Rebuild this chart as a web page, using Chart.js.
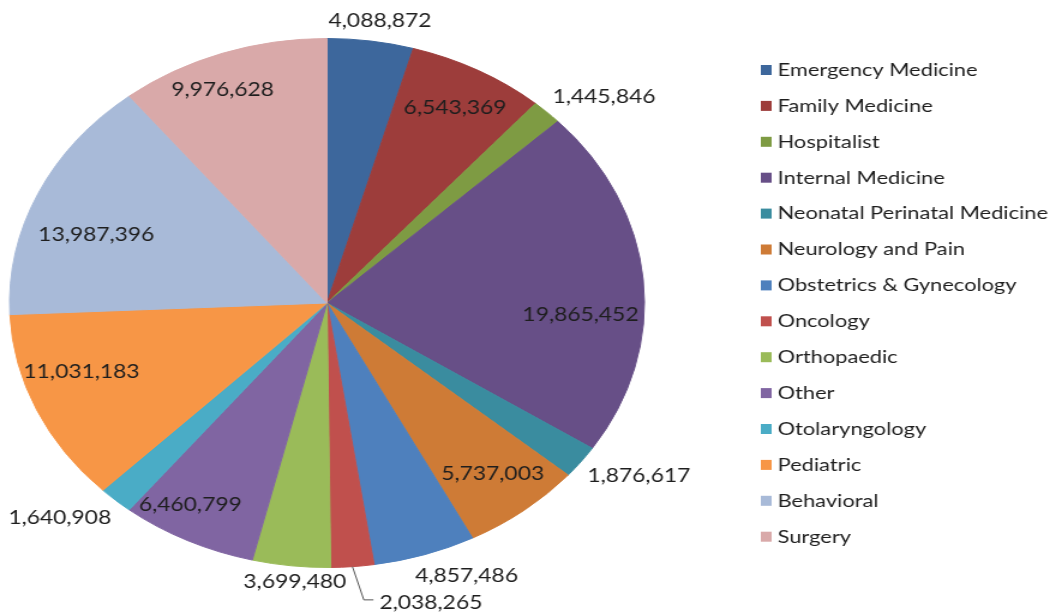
<!DOCTYPE html>
<html><head><meta charset="utf-8">
<script src="https://cdn.jsdelivr.net/npm/chart.js@4.4.0/dist/chart.umd.min.js"></script>
<style>
html,body{margin:0;padding:0;background:#fff;overflow:hidden;width:1056px;height:614px}
#wrap{width:880px;height:614px;transform:scaleX(1.2);transform-origin:0 0}
canvas{display:block}
</style></head><body>
<div id="wrap"><canvas id="c" width="880" height="614"></canvas></div>
<script>
const categories = ["Emergency Medicine","Family Medicine","Hospitalist","Internal Medicine","Neonatal Perinatal Medicine","Neurology and Pain","Obstetrics & Gynecology","Oncology","Orthopaedic","Other","Otolaryngology","Pediatric","Behavioral","Surgery"];
const values = [4088872,6543369,1445846,19865452,1876617,5737003,4857486,2038265,3699480,6460799,1640908,11031183,13987396,9976628];
const colors = ["#3D679C","#9D3D3B","#7E9B43","#674F87","#3A8C9F","#CE7B36","#4E80BD","#C0504D","#9ABB59","#8065A2","#4AACC6","#F79646","#A8BAD8","#D9A9A9"];
// label placement: radial factor (of outer radius) and angular shift (degrees)
const labelRadius = [1.08,0.84,1.17,0.80,1.18,0.83,1.12,1.18,1.06,0.875,1.17,0.816,0.771,0.872];
const labelShift = [1.0,0.3,4.4,8.3,-3.3,-0.6,-5.2,-11.5,-1.0,3.4,4.3,5.2,-5.0,-2.9];
const leaderLines = [7];

const LABEL_FONT = '19px Lato';
const LEGEND_FONT = '18.2px Lato';
const fmt = v => v.toLocaleString('en-US');

const labelPlugin = {
  id: 'pieLabels',
  afterDatasetsDraw(chart) {
    const ctx = chart.ctx;
    const meta = chart.getDatasetMeta(0);
    ctx.save();
    ctx.font = LABEL_FONT;
    ctx.fillStyle = '#1e1e1e';
    ctx.textAlign = 'center';
    ctx.textBaseline = 'middle';
    meta.data.forEach((arc, i) => {
      const p = arc.getProps(['x','y','startAngle','endAngle','outerRadius'], true);
      const midRaw = (p.startAngle + p.endAngle) / 2;
      const mid = midRaw + labelShift[i] * Math.PI / 180;
      const r = p.outerRadius * labelRadius[i];
      const lx = p.x + Math.cos(mid) * r;
      const ly = p.y + Math.sin(mid) * r;
      const txt = fmt(values[i]);
      ctx.fillText(txt, lx, ly);
      if (leaderLines.includes(i)) {
        const w = ctx.measureText(txt).width;
        const sx = p.x + Math.cos(midRaw) * p.outerRadius;
        const sy = p.y + Math.sin(midRaw) * p.outerRadius;
        const left = lx - w / 2;
        ctx.beginPath();
        ctx.strokeStyle = '#555';
        ctx.lineWidth = 1;
        ctx.moveTo(sx, sy);
        ctx.lineTo(left - 13, ly - 3);
        ctx.lineTo(left - 5, ly - 3);
        ctx.stroke();
      }
    });
    ctx.restore();
  }
};

const legendPlugin = {
  id: 'sideLegend',
  afterDraw(chart) {
    const ctx = chart.ctx;
    const x0 = chart.chartArea.right + 96;
    const top = 70, gap = 35.9;
    ctx.save();
    ctx.font = LEGEND_FONT;
    ctx.textBaseline = 'middle';
    ctx.textAlign = 'left';
    categories.forEach((c, i) => {
      const y = top + i * gap;
      ctx.fillStyle = colors[i];
      ctx.fillRect(x0, y - 5, 9, 10);
      ctx.fillStyle = '#1e1e1e';
      ctx.fillText(c, x0 + 14, y);
    });
    ctx.restore();
  }
};

new Chart(document.getElementById('c'), {
  type: 'pie',
  data: {
    labels: categories,
    datasets: [{
      data: values,
      backgroundColor: colors,
      borderColor: colors,
      borderWidth: 1
    }]
  },
  options: {
    responsive: false,
    animation: false,
    devicePixelRatio: 1,
    layout: { padding: { top: 38, bottom: 46, left: 7, right: 342 } },
    plugins: { legend: { display: false }, tooltip: { enabled: false } }
  },
  plugins: [labelPlugin, legendPlugin]
});
</script>
</body></html>
